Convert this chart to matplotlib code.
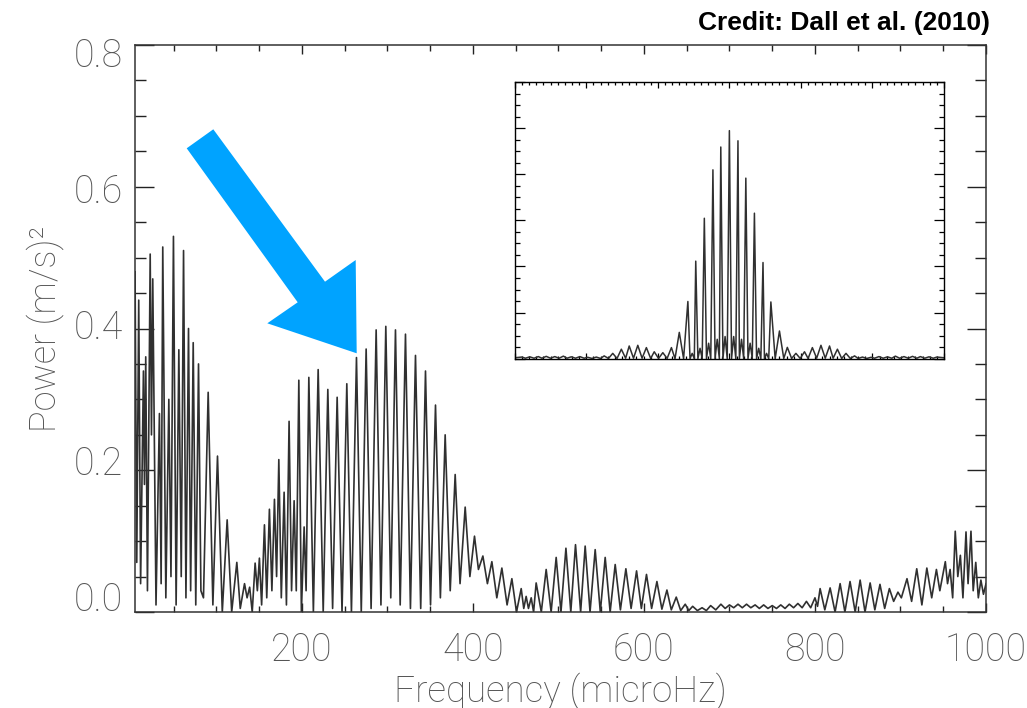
import matplotlib.pyplot as plt
import matplotlib.transforms as mtransforms
from matplotlib.patches import Polygon
from matplotlib.ticker import MultipleLocator

# turning points (peaks and troughs) of the power spectrum
freq = [5.0, 7.0, 9.3, 11.5, 14.8, 16.0, 17.5, 19.5, 22.7, 24.2, 25.7, 29.5, 33.5, 35.5,
        37.4, 41.0, 44.5, 47.0, 49.9, 53.0, 56.2, 59.0, 61.7, 64.5, 67.5, 70.0, 73.0, 76.0,
        79.2, 82.0, 85.0, 87.5, 90.5, 96.0, 101.4, 107.0, 112.7, 118.0, 124.0, 128.0, 133.0,
        136.0, 139.0, 142.0, 145.4, 148.0, 150.4, 153.0, 156.3, 159.0, 162.1, 165.0, 168.0,
        170.5, 173.1, 176.0, 179.3, 182.0, 185.1, 188.0, 191.0, 193.5, 196.5, 199.5, 202.7,
        205.0, 208.2, 213.5, 219.1, 225.0, 230.4, 236.0, 241.3, 247.0, 252.6, 258.0, 263.9,
        269.5, 275.2, 281.0, 286.9, 292.5, 298.2, 304.0, 309.5, 315.0, 321.2, 327.0, 332.9,
        339.0, 344.6, 350.5, 356.3, 362.0, 367.6, 373.5, 379.3, 385.0, 391.0, 396.5, 401.9,
        406.5, 411.7, 417.0, 422.2, 428.0, 433.9, 440.0, 445.6, 451.0, 456.5, 459.5, 462.3,
        465.0, 468.2, 471.0, 474.0, 480.0, 485.7, 491.5, 497.4, 503.0, 508.8, 514.5, 520.0,
        526.0, 531.3, 537.0, 543.0, 549.0, 554.7, 560.5, 566.4, 572.5, 578.9, 585.0, 591.4,
        597.0, 603.0, 609.0, 615.2, 621.0, 626.9, 632.0, 637.8, 643.0, 648.3, 652.5, 657.0,
        662.5, 668.0, 673.0, 678.0, 684.0, 690.0, 695.0, 700.0, 705.0, 710.0, 715.0, 720.0,
        725.0, 730.0, 735.0, 740.0, 745.0, 750.0, 755.0, 760.0, 765.0, 770.0, 775.0, 780.0,
        785.0, 790.0, 795.0, 800.0, 803.0, 806.0, 811.5, 817.7, 823.5, 829.4, 835.0, 841.0,
        847.0, 852.8, 858.5, 864.5, 870.0, 876.0, 881.5, 887.0, 892.0, 897.0, 901.0, 907.6,
        913.0, 919.0, 925.0, 930.8, 936.5, 942.0, 946.0, 952.4, 955.0, 958.0, 961.0, 964.0,
        967.0, 970.0, 973.0, 976.6, 979.0, 982.4, 985.0, 988.0, 991.0, 994.0, 997.0, 1000.0]
power = [0.48, 0.07, 0.44, 0.04, 0.34, 0.18, 0.36, 0.03, 0.505, 0.25, 0.47, 0.01, 0.28, 0.04,
         0.515, 0.02, 0.30, 0.05, 0.53, 0.01, 0.37, 0.05, 0.51, 0.02, 0.40, 0.03, 0.38, 0.01,
         0.35, 0.03, 0.02, 0.15, 0.31, 0.01, 0.22, 0.0, 0.13, 0.0, 0.07, 0.005, 0.04,
         0.02, 0.035, 0.0, 0.069, 0.03, 0.076, 0.01, 0.123, 0.02, 0.145, 0.03, 0.159,
         0.05, 0.215, 0.02, 0.169, 0.01, 0.269, 0.03, 0.157, 0.03, 0.327, 0.0, 0.12,
         0.03, 0.331, 0.0, 0.342, 0.0, 0.314, 0.005, 0.303, 0.0, 0.322, 0.0, 0.359,
         0.0, 0.371, 0.005, 0.398, 0.01, 0.403, 0.02, 0.398, 0.01, 0.392, 0.005, 0.362,
         0.005, 0.340, 0.01, 0.292, 0.02, 0.250, 0.03, 0.194, 0.04, 0.148, 0.05, 0.107,
         0.06, 0.079, 0.04, 0.071, 0.02, 0.062, 0.01, 0.047, 0.0, 0.033, 0.005, 0.022,
         0.005, 0.02, 0.0, 0.041, 0.0, 0.060, 0.0, 0.077, 0.0, 0.090, 0.0, 0.095,
         0.0, 0.093, 0.0, 0.088, 0.0, 0.077, 0.0, 0.067, 0.003, 0.061, 0.005, 0.058,
         0.005, 0.053, 0.005, 0.043, 0.004, 0.031, 0.003, 0.021, 0.002, 0.011, 0.002, 0.008,
         0.002, 0.006, 0.002, 0.009, 0.003, 0.011, 0.005, 0.010, 0.006, 0.011, 0.006, 0.011,
         0.006, 0.010, 0.005, 0.010, 0.005, 0.009, 0.005, 0.010, 0.005, 0.011, 0.006, 0.012,
         0.006, 0.015, 0.006, 0.020, 0.008, 0.033, 0.003, 0.034, 0.0, 0.040, 0.0, 0.043,
         0.0, 0.045, 0.0, 0.041, 0.003, 0.039, 0.005, 0.033, 0.015, 0.028, 0.02, 0.047,
         0.015, 0.061, 0.01, 0.062, 0.02, 0.060, 0.03, 0.071, 0.04, 0.06, 0.02, 0.114,
         0.05, 0.08, 0.02, 0.113, 0.04, 0.114, 0.03, 0.07, 0.02, 0.045, 0.025, 0.04]

# spectral window (inset), offsets in microHz
win_f = [-300, -290, -285, -279, -273, -267, -262, -256, -250, -244, -238, -232, -227, -221,
         -215, -209, -203, -198, -192, -186, -180, -175, -169, -163, -157, -151, -145, -140,
         -134, -128, -122, -116, -110, -105, -99, -93, -87, -81, -76, -70, -64, -58, -55, -52,
         -49, -47, -44, -41, -38, -35, -32, -29, -26, -23, -20, -17, -14, -12, -9, -6, -3, 0,
         3, 6, 9, 12, 14, 17, 20, 23, 26, 29, 32, 35, 38, 41, 44, 47, 49, 52, 55, 58, 64, 70,
         76, 81, 87, 93, 99, 105, 110, 116, 122, 128, 134, 140, 145, 151, 157, 163, 169, 175,
         180, 186, 192, 198, 203, 209, 215, 221, 227, 232, 238, 244, 250, 256, 262, 267, 273,
         279, 285, 290, 300]
win_p = [0.004, 0.007, 0.002, 0.008, 0.002, 0.009, 0.002, 0.010, 0.002, 0.009, 0.002, 0.011,
         0.002, 0.008, 0.002, 0.009, 0.002, 0.006, 0.001, 0.007, 0.001, 0.012, 0.001, 0.023,
         0.001, 0.041, 0.002, 0.055, 0.002, 0.058, 0.002, 0.048, 0.001, 0.030, 0.001, 0.026,
         0.001, 0.048, 0.0, 0.114, 0.0, 0.248, 0.0, 0.023, 0.0, 0.423, 0.0, 0.045, 0.0, 0.609,
         0.0, 0.067, 0.0, 0.819, 0.0, 0.084, 0.0, 0.918, 0.0, 0.096, 0.0, 0.989, 0.0, 0.096,
         0.0, 0.945, 0.0, 0.084, 0.0, 0.783, 0.0, 0.067, 0.0, 0.631, 0.0, 0.045, 0.0, 0.417,
         0.0, 0.023, 0.0, 0.246, 0.0, 0.120, 0.001, 0.049, 0.001, 0.023, 0.001, 0.030, 0.001,
         0.048, 0.002, 0.058, 0.002, 0.055, 0.002, 0.041, 0.001, 0.023, 0.001, 0.012, 0.001,
         0.007, 0.001, 0.006, 0.002, 0.009, 0.002, 0.008, 0.002, 0.011, 0.002, 0.009, 0.002,
         0.010, 0.002, 0.009, 0.002, 0.008, 0.002, 0.007, 0.004]

y_ticks = [0.0, 0.2, 0.4, 0.6, 0.8]
y_labels = ['0.0', '0.2', '0.4', '0.6', '0.8']

tick_font = ['Roboto', 'DejaVu Sans']
line_col = '#303030'
text_col = '#555555'

fig = plt.figure(figsize=(10.27, 7.08), dpi=100)
ax = fig.add_axes([0.1315, 0.1356, 0.8286, 0.8008])
ax.plot(freq, power, color=line_col, linewidth=1.2)
ax.set_xlim(5, 1000)
ax.set_ylim(0, 0.8)
ax.xaxis.set_major_locator(MultipleLocator(200))
ax.xaxis.set_minor_locator(MultipleLocator(50))
ax.set_yticks(y_ticks)
ax.yaxis.set_minor_locator(MultipleLocator(0.05))
ax.tick_params(axis='both', which='both', direction='in', top=True, right=True, width=1.0, color='#222222')
ax.tick_params(axis='x', which='major', length=6.5, pad=14)
ax.tick_params(axis='x', which='minor', length=4.3)
ax.tick_params(axis='y', which='major', length=13.7, labelleft=False)
ax.tick_params(axis='y', which='minor', length=7.9)
for lab in ax.get_xticklabels():
    lab.set_family(tick_font)
    lab.set_fontweight('light')
    lab.set_fontsize(27)
    lab.set_color(text_col)

# IDL-style y labels sit a little closer together than the ticks
ytrans = mtransforms.blended_transform_factory(ax.transAxes, ax.transData)
for v, s in zip(y_ticks, y_labels):
    ax.text(-0.0141, 0.4 + (v - 0.4) * 0.96, s, transform=ytrans, ha='right', va='center',
            family=tick_font, fontweight='light', fontsize=27, color=text_col)

for s in ax.spines.values():
    s.set_linewidth(1.1)
    s.set_color('#333333')
ax.set_xlabel('Frequency (microHz)', family=tick_font, fontweight='light', fontsize=26.5,
              color=text_col, labelpad=2)
ax.set_ylabel('Power (m/s)²', family=tick_font, fontweight='light', fontsize=26,
              color=text_col, labelpad=48)

# inset with the spectral window
ins = fig.add_axes([0.5012, 0.4934, 0.418, 0.3908])
ins.plot(win_f, win_p, color=line_col, linewidth=1.1)
ins.set_xlim(-300, 300)
ins.set_ylim(0, 1.2)
ins.xaxis.set_major_locator(MultipleLocator(100))
ins.xaxis.set_minor_locator(MultipleLocator(10))
ins.yaxis.set_major_locator(MultipleLocator(0.2))
ins.yaxis.set_minor_locator(MultipleLocator(0.05))
ins.tick_params(axis='both', which='both', direction='in', top=True, right=True,
                labelbottom=False, labelleft=False, width=0.9)
ins.tick_params(axis='x', which='major', length=4)
ins.tick_params(axis='x', which='minor', length=2)
ins.tick_params(axis='y', which='major', length=7)
ins.tick_params(axis='y', which='minor', length=3.5)
for s in ins.spines.values():
    s.set_linewidth(1.0)

# big blue arrow (pixel outline of the drawn shape)
arrow_px = [(186.7, 148.3), (213.3, 129.3), (325.0, 281.7), (355.7, 260.0),
            (356.7, 353.3), (267.3, 323.3), (297.7, 302.3)]
arrow_fig = [(x / 1027, 1 - y / 708) for x, y in arrow_px]
fig.patches.append(Polygon(arrow_fig, closed=True, transform=fig.transFigure,
                           facecolor='#00A3FF', edgecolor='none', zorder=5))

fig.text(990 / 1027, 1 - 23 / 708, 'Credit: Dall et al. (2010)', ha='right', va='center',
         fontsize=19, fontweight='bold', family=['Liberation Sans', 'DejaVu Sans'])

fig.savefig('out.png', dpi=100)
